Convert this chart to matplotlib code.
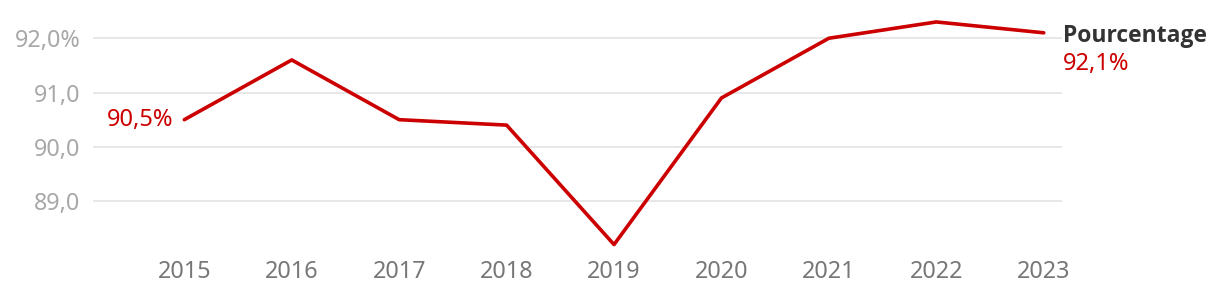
import matplotlib.pyplot as plt

years = [2015, 2016, 2017, 2018, 2019, 2020, 2021, 2022, 2023]
pct = [90.5, 91.6, 90.5, 90.4, 88.2, 90.9, 92.0, 92.3, 92.1]
yticks = [89.0, 90.0, 91.0, 92.0]
ylabels = ['89,0', '90,0', '91,0', '92,0%']

red = '#cc0000'
plt.rcParams['font.family'] = ['Noto Sans', 'DejaVu Sans']

fig = plt.figure(figsize=(12.2, 2.94), dpi=100)
ax = fig.add_axes([93/1220, 44/294, (1062-93)/1220, 240/294])

ax.plot(years, pct, color=red, lw=2.6, solid_capstyle='round', zorder=3)

ax.set_xlim(2014.15, 2023.17)
ax.set_ylim(88.1, 92.52)
ax.set_yticks(yticks)
ax.set_yticklabels(ylabels)
ax.set_xticks(years)
ax.set_xticklabels([str(y) for y in years])
ax.grid(axis='y', color='#e3e3e3', lw=1.2)
ax.tick_params(axis='y', length=0, labelsize=16.8, labelcolor='#a8a8a8', pad=9)
ax.tick_params(axis='x', length=0, labelsize=16.8, labelcolor='#777777', pad=7)
for s in ax.spines.values():
    s.set_visible(False)

ax.annotate('90,5%', (years[0], pct[0]), xytext=(-8, 0), textcoords='offset points',
            ha='right', va='center', color=red, fontsize=17)
ax.annotate('Pourcentage', (years[-1], pct[-1]), xytext=(14, -2), textcoords='offset points',
            ha='left', va='center', color='#333333', fontsize=16.5, fontweight='bold',
            family=['Open Sans', 'DejaVu Sans'], annotation_clip=False)
ax.annotate('92,1%', (years[-1], pct[-1]), xytext=(14, -22.5), textcoords='offset points',
            ha='left', va='center', color=red, fontsize=17, annotation_clip=False)

plt.savefig('out.png', dpi=100)
